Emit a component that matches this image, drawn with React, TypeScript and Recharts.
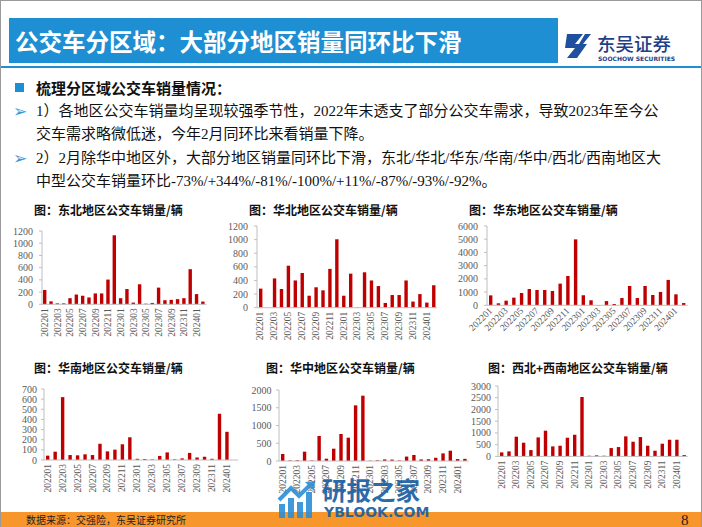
import React from "react";
import { BarChart, Bar, XAxis, YAxis } from "recharts";

const months = [
  "202201", "202202", "202203", "202204", "202205", "202206", "202207", "202208", "202209", "202210", "202211", "202212",
  "202301", "202302", "202303", "202304", "202305", "202306", "202307", "202308", "202309", "202310", "202311", "202312",
  "202401", "202402",
];

const northeast = [234, 48, 15, 15, 100, 160, 140, 112, 178, 178, 405, 1130, 100, 250, 28, 328, 10, 22, 273, 67, 73, 84, 100, 575, 167, 45];
const north = [280, 0, 430, 275, 617, 400, 510, 176, 300, 255, 570, 1005, 176, 500, 5, 520, 400, 318, 70, 186, 186, 400, 90, 200, 75, 330];
const east = [750, 150, 350, 580, 930, 1230, 1160, 1160, 1080, 1640, 2220, 4990, 760, 380, 20, 320, 100, 550, 1460, 550, 1460, 780, 1010, 1920, 830, 170];
const south = [43, 82, 620, 49, 46, 56, 49, 160, 85, 102, 155, 224, 12, 10, 6, 40, 75, 6, 16, 70, 25, 32, 12, 456, 278, 0];
const central = [197, 15, 20, 263, 15, 705, 65, 347, 760, 657, 1568, 1840, 10, 20, 45, 40, 15, 125, 170, 45, 50, 90, 215, 290, 55, 61];
const westSouthwest = [170, 213, 840, 583, 270, 810, 1095, 426, 455, 795, 923, 2530, 28, 43, 28, 355, 398, 853, 625, 825, 455, 242, 540, 710, 710, 57];

const ticks1200 = [0, 200, 400, 600, 800, 1000, 1200];
const ticks6000 = [0, 1000, 2000, 3000, 4000, 5000, 6000];
const ticks700 = [0, 100, 200, 300, 400, 500, 600, 700];
const ticks2000 = [0, 500, 1000, 1500, 2000];
const ticks3000 = [0, 500, 1000, 1500, 2000, 2500, 3000];

const BLUE = "#1e8fd2";
const RED = "#c00000";
const GRAY = "#595959";
const SERIF_CJK = "'Liberation Serif', 'Noto Sans CJK SC', serif";
const CJK = "'Noto Sans CJK SC', sans-serif";

type Geo = { x0: number; x1: number; y0: number; y1: number };

function MonthTick({ x, y, payload, angle }: any) {
  return (
    <text
      x={x}
      y={y}
      transform={`rotate(${angle} ${x} ${y})`}
      textAnchor="end"
      dominantBaseline="central"
      fontSize={9.5}
      fill={GRAY}
      fontFamily="'Liberation Serif', serif"
    >
      {payload.value}
    </text>
  );
}

function RegionChart({
  values,
  ticks,
  geo,
  angle = -90,
  yGap = 9,
}: {
  values: number[];
  ticks: number[];
  geo: Geo;
  angle?: number;
  yGap?: number;
}) {
  const data = months.map((m, i) => ({ month: m, value: values[i] }));
  const yw = 45;
  const top = 8;
  const right = 6;
  const xh = 45;
  const left = geo.x0 - yw;
  const w = geo.x1 - left + right;
  const h = geo.y1 - (geo.y0 - top) + xh;
  return (
    <div style={{ position: "absolute", left, top: geo.y0 - top }}>
      <BarChart
        width={w}
        height={h}
        data={data}
        margin={{ top, right, bottom: 0, left: 0 }}
        barSize={3.4}
      >
        <XAxis
          dataKey="month"
          interval={1}
          height={xh}
          tickLine={false}
          tickSize={0}
          tickMargin={4}
          axisLine={{ stroke: "#bfbfbf" }}
          tick={(p: any) => <MonthTick {...p} angle={angle} />}
        />
        <YAxis
          type="number"
          width={yw}
          domain={[0, ticks[ticks.length - 1]]}
          ticks={ticks}
          interval={0}
          tickSize={3}
          tickMargin={yGap - 3}
          axisLine={{ stroke: "#bfbfbf" }}
          tickLine={{ stroke: "#bfbfbf" }}
          tick={{ fontSize: 10, fill: GRAY, fontFamily: "'Liberation Serif', serif" }}
        />
        <Bar dataKey="value" fill={RED} isAnimationActive={false} />
      </BarChart>
    </div>
  );
}

function ChartTitle({ text, left, top }: { text: string; left: number; top: number }) {
  return (
    <div
      style={{
        position: "absolute",
        left,
        top: top - 8,
        lineHeight: "16px",
        fontSize: 12,
        fontWeight: 700,
        fontFamily: CJK,
        color: "#111",
        whiteSpace: "nowrap",
      }}
    >
      {text}
    </div>
  );
}

function Line({ text, top, left = 35, bold = false }: { text: string; top: number; left?: number; bold?: boolean }) {
  return (
    <div
      style={{
        position: "absolute",
        left,
        top: top - 11,
        lineHeight: "22px",
        fontSize: 15,
        fontWeight: bold ? 700 : 400,
        fontFamily: bold ? CJK : SERIF_CJK,
        color: "#111",
        whiteSpace: "nowrap",
      }}
    >
      {text}
    </div>
  );
}

function Arrow({ top }: { top: number }) {
  return (
    <div
      style={{
        position: "absolute",
        left: 12,
        top: top - 11,
        lineHeight: "22px",
        fontSize: 17,
        fontFamily: "'DejaVu Sans', sans-serif",
        color: "#3a9ad9",
      }}
    >
      ➢
    </div>
  );
}

export default function App() {
  return (
    <div
      style={{
        position: "fixed",
        left: 0,
        top: 0,
        width: 702,
        height: 527,
        background: "#fff",
        overflow: "hidden",
        boxSizing: "border-box",
        borderTop: "1px solid #9a9a9a",
        borderLeft: "1px solid #9a9a9a",
        borderRight: "1px solid #9a9a9a",
      }}
    >
      {/* header */}
      <div style={{ position: "absolute", left: 8, top: 17, width: 549, height: 45, background: BLUE }} />
      <div
        style={{
          position: "absolute",
          left: 14,
          top: 26,
          lineHeight: "28px",
          fontSize: 23.5,
          fontWeight: 700,
          fontFamily: CJK,
          color: "#fff",
          whiteSpace: "nowrap",
        }}
      >
        公交车分区域：大部分地区销量同环比下滑
      </div>
      <div style={{ position: "absolute", left: 0, top: 65, width: 702, height: 2, background: BLUE }} />

      {/* logo */}
      <svg style={{ position: "absolute", left: 562, top: 31 }} width={30} height={28} viewBox="0 0 30 28">
        <path d="M4 2 H20 L12 12 H24 L14 26 H4 L12 16 H2 Z" fill="#1f4f9e" />
        <path d="M22 2 H28 L20 12 H16 Z" fill="#1f4f9e" />
      </svg>
      <div
        style={{
          position: "absolute",
          left: 596,
          top: 32,
          lineHeight: "20px",
          fontSize: 18.5,
          fontWeight: 500,
          fontFamily: CJK,
          color: "#1f3f86",
          whiteSpace: "nowrap",
        }}
      >
        东吴证券
      </div>
      <div
        style={{
          position: "absolute",
          left: 597,
          top: 54,
          lineHeight: "7px",
          fontSize: 6,
          fontWeight: 700,
          fontFamily: "'DejaVu Sans', sans-serif",
          color: "#1f3f86",
          whiteSpace: "nowrap",
        }}
      >
        SOOCHOW SECURITIES
      </div>

      {/* body text */}
      <div style={{ position: "absolute", left: 14, top: 82, width: 9, height: 9, background: BLUE }} />
      <Line text="梳理分区域公交车销量情况：" top={87} bold />
      <Arrow top={110} />
      <Line text="1）各地区公交车销量均呈现较强季节性，2022年末透支了部分公交车需求，导致2023年至今公" top={110} />
      <Line text="交车需求略微低迷，今年2月同环比来看销量下降。" top={133} />
      <Arrow top={157} />
      <Line text="2）2月除华中地区外，大部分地区销量同环比下滑，东北/华北/华东/华南/华中/西北/西南地区大" top={157} />
      <Line text="中型公交车销量环比-73%/+344%/-81%/-100%/+11%/-87%/-93%/-92%。" top={180} />

      {/* charts */}
      <ChartTitle text="图：东北地区公交车销量/辆" left={33} top={209} />
      <ChartTitle text="图：华北地区公交车销量/辆" left={248} top={209} />
      <ChartTitle text="图：华东地区公交车销量/辆" left={468} top={209} />
      <ChartTitle text="图：华南地区公交车销量/辆" left={33} top={367} />
      <ChartTitle text="图：华中地区公交车销量/辆" left={265} top={367} />
      <ChartTitle text="图：西北+西南地区公交车销量/辆" left={487} top={367} />

      <RegionChart values={northeast} ticks={ticks1200} geo={{ x0: 41, x1: 205.5, y0: 230, y1: 303.3 }} />
      <RegionChart values={north} ticks={ticks1200} geo={{ x0: 255.7, x1: 435.7, y0: 225, y1: 306.7 }} />
      <RegionChart values={east} ticks={ticks6000} geo={{ x0: 485.7, x1: 686.4, y0: 225, y1: 304.3 }} angle={-45} />
      <RegionChart values={south} ticks={ticks700} geo={{ x0: 43.3, x1: 237.5, y0: 388.3, y1: 459.3 }} yGap={7} />
      <RegionChart values={central} ticks={ticks2000} geo={{ x0: 277.7, x1: 467.2, y0: 389.3, y1: 460.3 }} yGap={7.5} />
      <RegionChart values={westSouthwest} ticks={ticks3000} geo={{ x0: 497.3, x1: 687.1, y0: 385.3, y1: 455.7 }} yGap={7} />

      {/* footer */}
      <div style={{ position: "absolute", left: 0, top: 511, width: 702, height: 16, background: "#f7962a" }} />
      <div
        style={{
          position: "absolute",
          left: 25,
          top: 512,
          lineHeight: "14px",
          fontSize: 10,
          fontFamily: CJK,
          color: "#222",
          whiteSpace: "nowrap",
        }}
      >
        数据来源：交强险，东吴证券研究所
      </div>
      <div
        style={{
          position: "absolute",
          left: 680,
          top: 510,
          lineHeight: "18px",
          fontSize: 15,
          fontFamily: "'Liberation Serif', serif",
          color: "#222",
        }}
      >
        8
      </div>

      {/* watermark */}
      <div style={{ position: "absolute", left: 276, top: 479, opacity: 0.9 }}>
        <svg width={40} height={38} viewBox="0 0 40 38">
          <rect x={2} y={24} width={6} height={14} fill="#2b8fd6" />
          <rect x={11} y={18} width={6} height={20} fill="#2b8fd6" />
          <rect x={20} y={22} width={6} height={16} fill="#2b8fd6" />
          <rect x={29} y={12} width={6} height={26} fill="#2b8fd6" />
          <path d="M2 20 L14 8 L22 16 L34 4" stroke="#2b8fd6" strokeWidth={4} fill="none" />
          <path d="M28 2 L38 1 L37 11 Z" fill="#2b8fd6" />
        </svg>
      </div>
      <div
        style={{
          position: "absolute",
          left: 321,
          top: 476,
          lineHeight: "25px",
          fontSize: 24.5,
          fontWeight: 700,
          fontFamily: CJK,
          color: "#1b5fa3",
          opacity: 0.92,
          whiteSpace: "nowrap",
        }}
      >
        研报之家
      </div>
      <div
        style={{
          position: "absolute",
          left: 323,
          top: 505,
          lineHeight: "13px",
          fontSize: 14,
          fontWeight: 700,
          fontFamily: "'DejaVu Sans', sans-serif",
          color: "#1b5fa3",
          opacity: 0.92,
          whiteSpace: "nowrap",
        }}
      >
        YBLOOK.COM
      </div>
    </div>
  );
}
